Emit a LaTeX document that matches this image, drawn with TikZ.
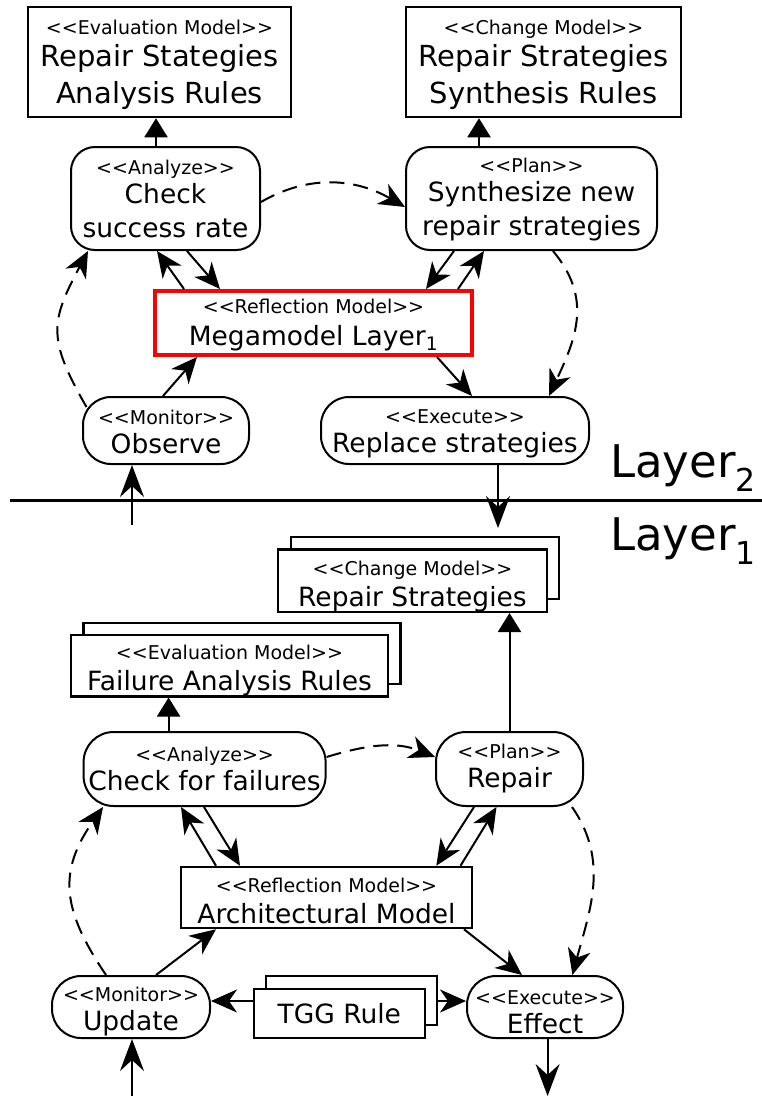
\documentclass[tikz,border=0pt]{standalone}
\usepackage{fontspec}
\setmainfont{DejaVu Sans}[Ligatures=TeXOff]
\usetikzlibrary{arrows.meta,calc}

\newcommand{\stsize}{\fontsize{19}{23}\selectfont}
\newcommand{\midsize}{\fontsize{26.5}{34}\selectfont}
\newcommand{\topsize}{\fontsize{29}{37}\selectfont}
% strut on the first line that pushes a text block down by #1
\newcommand{\lowerby}[1]{\rule{0pt}{\dimexpr 14pt+2\dimexpr #1\relax\relax}}

\begin{document}
\begin{tikzpicture}[x=1pt,y=1pt,
  model/.style={draw, line width=2.5pt, rectangle, inner sep=0pt, align=center, fill=white, font=\midsize},
  proc/.style={draw, line width=2pt, rounded corners=24pt, inner sep=0pt, align=center, fill=white, font=\midsize},
  pill/.style={proc, rounded corners=29pt},
  arr/.style={line width=2pt, -{Stealth[length=26pt,width=23pt,inset=8pt]}},
  longarr/.style={line width=2pt, -{Stealth[length=32pt,width=24pt,inset=11pt]}},
  tri/.style={line width=2pt, -{Triangle[length=19pt,width=23pt]}},
  dsh/.style={arr, dash pattern=on 15pt off 9pt},
]
\useasboundingbox (0,0) rectangle (762,-1096);

% ---------- upper layer ----------
\node[model, minimum width=263pt, minimum height=110pt, font=\topsize] (evaltop) at (159.5,-62)
  {{\stsize\lowerby{3pt}<<Evaluation Model>>}\\[-5pt] Repair Stategies\\ Analysis Rules};
\node[model, minimum width=275pt, minimum height=110pt, font=\topsize] (changetop) at (543.5,-62)
  {{\stsize\lowerby{3pt}<<Change Model>>}\\[-5pt] Repair Strategies\\ Synthesis Rules};
\node[proc, minimum width=189pt, minimum height=103pt] (analyzet) at (165.5,-198.5)
  {{\stsize\lowerby{1pt}<<Analyze>>}\\[-5pt] Check\\ success rate};
\node[proc, minimum width=251pt, minimum height=103pt] (plant) at (531.5,-198.5)
  {{\stsize\lowerby{1pt}<<Plan>>}\\[-5pt] Synthesize new\\ repair strategies};
\node[model, draw=red, line width=4pt, minimum width=317pt, minimum height=64pt] (mega) at (313.5,-323)
  {{\stsize\lowerby{2pt}<<Reflection Model>>}\\[-2pt] Megamodel Layer\textsubscript{1}};
\node[proc, rounded corners=28pt, minimum width=166pt, minimum height=67pt] (observe) at (166,-430.5)
  {{\stsize\lowerby{2pt}<<Monitor>>}\\[-5pt] Observe};
\node[proc, rounded corners=28pt, minimum width=268pt, minimum height=67pt] (exect) at (455,-430.5)
  {{\stsize\lowerby{3pt}<<Execute>>}\\[-5pt] Replace strategies};

\draw[tri] ([xshift=-9.5pt]analyzet.north) -- ([xshift=-9.5pt]analyzet.north |- evaltop.south);
\draw[tri] ([xshift=-52.5pt]plant.north) -- ([xshift=-52.5pt]plant.north |- changetop.south);
\draw[arr] ([xshift=-129.5pt]mega.north) -- ([xshift=-8.5pt]analyzet.south);
\draw[arr] ([xshift=21.5pt]analyzet.south) -- ([xshift=-93.5pt]mega.north);
\draw[arr] ([xshift=-77.5pt]plant.south) -- ([xshift=112.5pt]mega.north);
\draw[arr] ([xshift=144.5pt]mega.north) -- ([xshift=-47.5pt]plant.south);
\draw[arr] ([xshift=-3pt]observe.north) -- ([xshift=-116.5pt]mega.south);
\draw[arr] ([xshift=123.5pt]mega.south) -- ([xshift=17pt]exect.north);
\draw[dsh] ([yshift=-3.5pt]analyzet.east) to[out=30,in=150] ([yshift=-8.5pt]plant.west);
\draw[dsh] ([xshift=4.5pt,yshift=-11pt]observe.north west) to[out=120,in=242,looseness=1.3] ([xshift=18pt]analyzet.south west);
\draw[dsh] ([xshift=21.5pt]plant.south) to[out=-50,in=65,looseness=1.1] ([xshift=94pt]exect.north);

\coordinate (down2) at (498,-528);
\coordinate (up2) at (132,-525);
\draw[longarr] ([xshift=43pt]exect.south) -- (down2);
\draw[longarr] (up2) -- ([xshift=-34pt]observe.south);

% ---------- layer separator ----------
\draw[line width=3pt] (10,-500.5) -- (762,-500.5);
\node[anchor=base west, inner sep=0pt, font=\fontsize{45}{54}\selectfont] (lbltwo) at (610,-477) {Layer\textsubscript{2}};
\node[anchor=base west, inner sep=0pt, font=\fontsize{45}{54}\selectfont] (lblone) at (610,-550) {Layer\textsubscript{1}};

% ---------- lower layer ----------
\node[model, minimum width=268pt, minimum height=62pt] (changeback) at (424.8,-568) {};
\node[model, minimum width=269pt, minimum height=61pt] (changel1) at (412.5,-580.5)
  {{\stsize\lowerby{6pt}<<Change Model>>}\\[-3pt] Repair Strategies};
\node[model, minimum width=317pt, minimum height=61pt] (evalback) at (241.8,-653.5) {};
\node[model, minimum width=317pt, minimum height=61pt] (evall1) at (229.5,-665.5)
  {{\stsize\lowerby{5.5pt}<<Evaluation Model>>}\\[-3pt] Failure Analysis Rules};
\node[proc, rounded corners=30pt, minimum width=242pt, minimum height=74pt] (analyzel1) at (204.6,-769)
  {{\stsize <<Analyze>>}\\[-5pt] Check for failures};
\node[proc, rounded corners=30pt, minimum width=147pt, minimum height=74pt] (planl1) at (509.5,-769)
  {{\stsize <<Plan>>}\\[-5pt] Repair};
\node[model, minimum width=291pt, minimum height=61pt] (arch) at (326.5,-897.5)
  {{\stsize\lowerby{3.5pt}<<Reflection Model>>}\\[-3pt] Architectural Model};
\node[pill, minimum width=158pt, minimum height=62pt] (update) at (131,-1007)
  {{\stsize\lowerby{5pt}<<Monitor>>}\\[-5pt] Update};
\node[pill, minimum width=156pt, minimum height=62pt] (effect) at (545,-1007)
  {{\stsize\lowerby{5pt}<<Execute>>}\\[-5pt] Effect};
\node[model, minimum width=171pt, minimum height=49pt] (tggback) at (351.5,-1000.5) {};
\node[model, minimum width=171pt, minimum height=49pt] (tgg) at (339.3,-1013.5) {TGG Rule};

\draw[tri] ([xshift=-36pt]analyzel1.north) -- ([xshift=-36pt]analyzel1.north |- evall1.south);
\draw[tri] (planl1.north) -- (planl1.north |- changel1.south);
\draw[dsh] ([yshift=12pt]analyzel1.east) to[out=17,in=158] ([yshift=12pt]planl1.west);
\draw[arr] ([xshift=-110.5pt]arch.north) -- ([xshift=-23.6pt]analyzel1.south);
\draw[arr] ([xshift=-0.6pt]analyzel1.south) -- ([xshift=-86.5pt]arch.north);
\draw[arr] ([xshift=-35.5pt]planl1.south) -- ([xshift=109.8pt]arch.north);
\draw[arr] ([xshift=134pt]arch.north) -- ([xshift=-13pt]planl1.south);
\draw[dsh] ([xshift=-12pt]planl1.south east) to[out=-55,in=75] ([xshift=27.4pt]effect.north);
\draw[arr] ([xshift=137.5pt]arch.south) -- ([xshift=-23pt]effect.north);
\draw[dsh] ([xshift=-25pt]update.north) to[out=124,in=235,looseness=1.2] ([xshift=20.4pt]analyzel1.south west);
\draw[arr] ([xshift=25pt]update.north) -- ([xshift=-110.5pt]arch.south);
\draw[arr] ([yshift=12.5pt]tgg.west) -- ([yshift=6pt]update.east);
\draw[arr] ([yshift=-0.5pt]tggback.east) -- ([yshift=6pt]effect.west);

\coordinate (up1) at (132,-1096);
\coordinate (down1) at (547.6,-1096);
\draw[longarr] (up1) -- ([xshift=1pt]update.south);
\draw[longarr] ([xshift=2.6pt]effect.south) -- (down1);
\end{tikzpicture}
\end{document}
